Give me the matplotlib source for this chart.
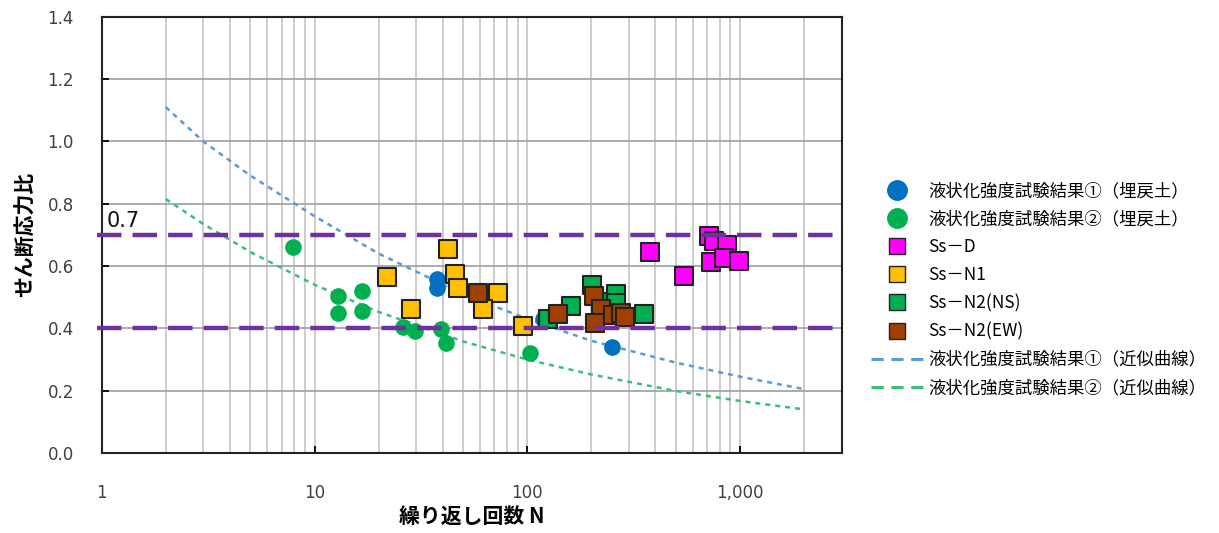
import matplotlib
matplotlib.use('Agg')
import matplotlib.pyplot as plt
from matplotlib.ticker import LogLocator, FixedLocator, FixedFormatter, NullFormatter
from matplotlib.lines import Line2D

plt.rcParams['font.family'] = ['Noto Sans CJK JP', 'DejaVu Sans']

# --- data ---
liq1_n = [37.5, 37.5, 118, 250]
liq1_ratio = [0.56, 0.53, 0.43, 0.34]

liq2_n = [7.9, 12.9, 12.9, 16.8, 16.8, 26.1, 29.6, 39.5, 41.7, 102.5]
liq2_ratio = [0.66, 0.504, 0.45, 0.521, 0.457, 0.404, 0.39, 0.397, 0.352, 0.32]

ssd_n = [379, 542, 710, 750, 726, 869, 835, 985]
ssd_ratio = [0.644, 0.569, 0.695, 0.68, 0.612, 0.666, 0.625, 0.617]

ssn1_n = [42.4, 22.0, 45.6, 47.2, 28.5, 72.8, 61.9, 95.3]
ssn1_ratio = [0.654, 0.564, 0.575, 0.529, 0.461, 0.515, 0.461, 0.408]

ssn2ns_n = [125, 161, 201, 231, 262, 262, 352]
ssn2ns_ratio = [0.429, 0.472, 0.539, 0.486, 0.511, 0.481, 0.445]

ssn2ew_n = [58.6, 139, 206, 223, 207, 252, 276, 289]
ssn2ew_ratio = [0.515, 0.446, 0.504, 0.461, 0.418, 0.443, 0.449, 0.436]

# approximate curves (read at these N)
curve_n = [2, 3, 5, 10, 20, 50, 100, 200, 500, 1000, 2000]
curve1_ratio = [1.11, 1.00, 0.89, 0.76, 0.64, 0.51, 0.43, 0.36, 0.29, 0.245, 0.205]
curve2_ratio = [0.815, 0.735, 0.645, 0.54, 0.453, 0.358, 0.30, 0.252, 0.199, 0.167, 0.14]

thresholds = [0.7, 0.4]

labels = ['液状化強度試験結果①（埋戻土）', '液状化強度試験結果②（埋戻土）',
          'Ss－D', 'Ss－N1', 'Ss－N2(NS)', 'Ss－N2(EW)',
          '液状化強度試験結果①（近似曲線）', '液状化強度試験結果②（近似曲線）']

c_blue = '#0070C0'
c_green = '#00B050'
c_mag = '#FF00FF'
c_yel = '#FFC000'
c_brown = '#A04000'
c_line1 = '#5B9BD5'
c_line2 = '#3DBE7A'
c_purple = '#7030A0'

fig = plt.figure(figsize=(12.19, 5.33), dpi=100)
ax = fig.add_axes([0.0834, 0.150, 0.6071, 0.8187])

ax.plot(curve_n, curve1_ratio, color=c_line1, lw=1.8, ls=(0, (2, 2)), zorder=2)
ax.plot(curve_n, curve2_ratio, color=c_line2, lw=1.8, ls=(0, (2, 2)), zorder=2)

ax.scatter(liq1_n, liq1_ratio, s=120, color=c_blue, zorder=3)
ax.scatter(liq2_n, liq2_ratio, s=120, color=c_green, zorder=3)
sq = dict(marker='s', s=175, edgecolors='#222222', linewidths=1.5, zorder=4)
ax.scatter(ssn1_n, ssn1_ratio, color=c_yel, **sq)
ax.scatter(ssd_n, ssd_ratio, color=c_mag, **sq)
ax.scatter(ssn2ns_n, ssn2ns_ratio, color=c_green, **sq)
ax.scatter(ssn2ew_n, ssn2ew_ratio, color=c_brown, **sq)

for t in thresholds:
    ax.axhline(t, xmin=-0.006, xmax=1, color=c_purple, lw=3.2,
               ls=(0, (5.5, 2.5)), zorder=5, clip_on=False)
ax.text(1.06, thresholds[0] + 0.013, '0.7', fontsize=15, color='#111111',
        ha='left', va='bottom', family='DejaVu Sans')

ax.set_xscale('log')
ax.set_xlim(1, 3000)
ax.set_ylim(0, 1.4)
ax.xaxis.set_major_locator(FixedLocator([1, 10, 100, 1000]))
ax.xaxis.set_major_formatter(FixedFormatter(['1', '10', '100', '1,000']))
ax.xaxis.set_minor_locator(LogLocator(base=10, subs=range(2, 10)))
ax.xaxis.set_minor_formatter(NullFormatter())
ax.set_yticks([0, 0.2, 0.4, 0.6, 0.8, 1.0, 1.2, 1.4])
ax.set_yticklabels(['%.1f' % v for v in ax.get_yticks()])

ax.grid(True, which='both', axis='x', color='#C8C8C8', lw=1.3, zorder=0)
ax.grid(True, which='major', axis='y', color='#A6A6A6', lw=1.3, zorder=0)
ax.set_axisbelow(True)

ax.tick_params(axis='x', which='major', direction='in', length=5, width=1.3,
               pad=22, labelsize=12, labelcolor='#404040')
ax.tick_params(axis='x', which='minor', length=0)
ax.tick_params(axis='y', direction='in', length=5, width=1.3,
               pad=20, labelsize=12, labelcolor='#404040')
for lbl in ax.get_xticklabels() + ax.get_yticklabels():
    lbl.set_family('DejaVu Sans')
for sp in ax.spines.values():
    sp.set_linewidth(1.5)
    sp.set_color('#222222')

ax.set_xlabel('繰り返し回数 N', fontsize=15, fontweight='bold', labelpad=3)
ax.set_ylabel('せん断応力比', fontsize=15, fontweight='bold', labelpad=8)

handles = [
    Line2D([], [], ls='none', marker='o', ms=14, color=c_blue),
    Line2D([], [], ls='none', marker='o', ms=14, color=c_green),
    Line2D([], [], ls='none', marker='s', ms=12, mfc=c_mag, mec='#222222', mew=1),
    Line2D([], [], ls='none', marker='s', ms=12, mfc=c_yel, mec='#222222', mew=1),
    Line2D([], [], ls='none', marker='s', ms=12, mfc=c_green, mec='#222222', mew=1),
    Line2D([], [], ls='none', marker='s', ms=12, mfc=c_brown, mec='#222222', mew=1),
    Line2D([], [], color=c_line1, lw=2.2, ls=(0, (4, 2.5))),
    Line2D([], [], color=c_line2, lw=2.2, ls=(0, (4, 2.5))),
]
fig.legend(handles, labels, loc='upper left', bbox_to_anchor=(871 / 1219, 1 - 182 / 533),
           frameon=False, fontsize=12.5, handlelength=3.0, handletextpad=0.3,
           labelspacing=0.58, borderpad=0, borderaxespad=0)

fig.savefig('out.png', dpi=100)
